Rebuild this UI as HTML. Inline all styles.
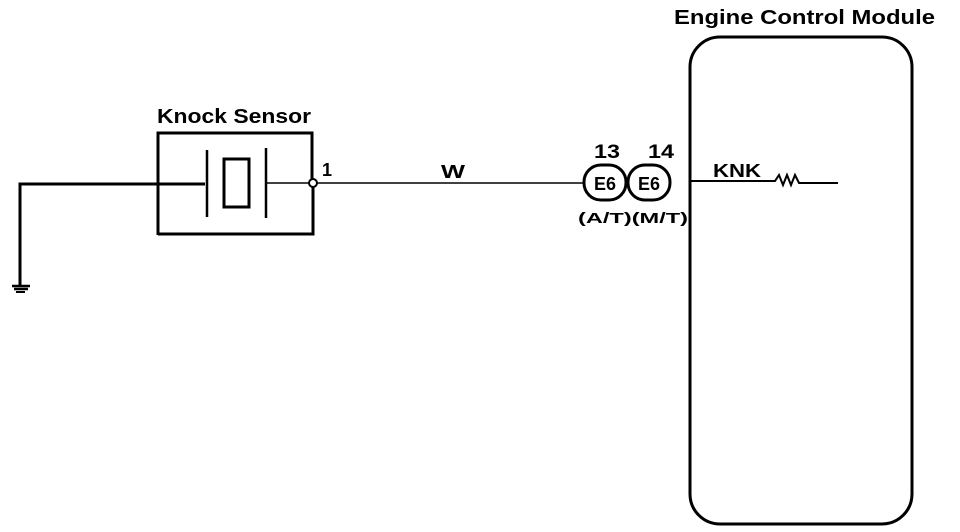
<!DOCTYPE html>
<html><head><meta charset="utf-8"><style>
html,body{margin:0;padding:0;background:#fff;}
svg{display:block;}
text{font-family:"Liberation Sans",sans-serif;font-weight:bold;fill:#000;}
</style></head><body>
<svg width="960" height="532" viewBox="0 0 960 532" xmlns="http://www.w3.org/2000/svg">
<g fill="none" stroke="#000">
<path d="M20 285 V184 H205" stroke-width="3"/>
<path d="M12 286 H30 M14 289 H28" stroke-width="2.5"/>
<path d="M16 292 H25" stroke-width="2"/>
<path d="M158 235 V133 H312 V180 M313 187 V234 H158" stroke-width="3"/>
<line x1="207" y1="150" x2="207" y2="217" stroke-width="2.5"/>
<line x1="266" y1="148" x2="266" y2="218" stroke-width="2.5"/>
<rect x="224" y="159" width="25" height="48" stroke-width="3"/>
<line x1="266" y1="183" x2="309" y2="183" stroke-width="1.5"/>
<circle cx="313" cy="183" r="4" stroke-width="2"/>
<line x1="317" y1="183" x2="585" y2="183" stroke-width="1.5"/>
<rect x="584" y="165" width="42" height="35" rx="17" stroke-width="3"/>
<rect x="628" y="165" width="42" height="35" rx="17" stroke-width="3"/>
<rect x="690" y="37" width="222" height="487" rx="30" stroke-width="3"/>
<path d="M690 181 H775 l4 -6 l4 10 l4 -10 l4 10 l4 -10 l4 8 H838" stroke-width="2"/>
</g>
<text x="157" y="123" font-size="20" textLength="154" lengthAdjust="spacingAndGlyphs">Knock Sensor</text>
<text x="322" y="176" font-size="18">1</text>
<text x="441" y="178" font-size="18" textLength="24" lengthAdjust="spacingAndGlyphs">W</text>
<text x="594" y="190" font-size="18" textLength="22" lengthAdjust="spacingAndGlyphs">E6</text>
<text x="638" y="190" font-size="18" textLength="22" lengthAdjust="spacingAndGlyphs">E6</text>
<text x="594" y="158" font-size="19" textLength="26" lengthAdjust="spacingAndGlyphs">13</text>
<text x="648" y="158" font-size="19" textLength="26" lengthAdjust="spacingAndGlyphs">14</text>
<text x="578" y="223" font-size="15" textLength="110" lengthAdjust="spacingAndGlyphs">(A/T)(M/T)</text>
<text x="713" y="177" font-size="18" textLength="48" lengthAdjust="spacingAndGlyphs">KNK</text>
<text x="674" y="24" font-size="20" textLength="261" lengthAdjust="spacingAndGlyphs">Engine Control Module</text>
</svg>
</body></html>
